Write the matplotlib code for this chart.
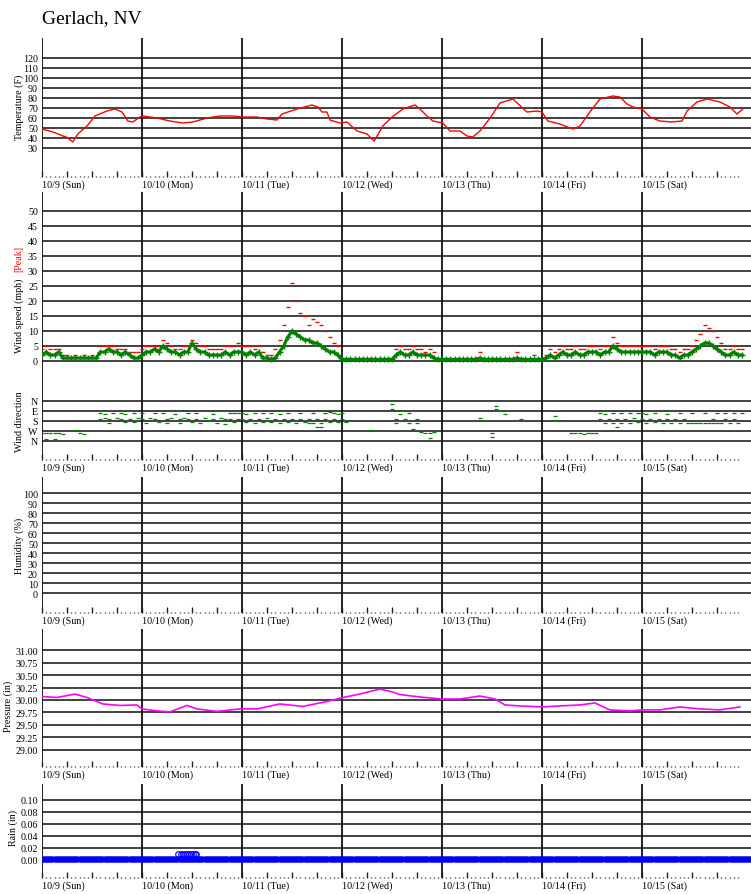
import numpy as np
import matplotlib.pyplot as plt

plt.rcParams['font.family'] = ['Liberation Serif', 'DejaVu Serif']

# ---- data (hours since 10/9 00:00) ----
day_labels = ['10/9 (Sun)', '10/10 (Mon)', '10/11 (Tue)', '10/12 (Wed)',
              '10/13 (Thu)', '10/14 (Fri)', '10/15 (Sat)']
day_starts = [0, 24, 48, 72, 96, 120, 144]

temp_hours = [0, 2.6, 4.5, 5.0, 5.8, 6.2, 6.8, 7.4, 8.0, 8.6, 10.8, 12.7, 15.6, 17.5, 19.2, 20.6, 21.8, 23.5,
              24.2, 27.6, 30.7, 33.8, 36.2, 39.6, 42.7, 45.8,
              48.0, 51.6, 54.0, 56.4, 57.6, 61.2, 64.8, 66.2, 67.2, 68.4, 69.1, 71.5,
              73.2, 75.6, 78.0, 79.7, 81.8, 84.0, 86.6, 89.5, 90.7, 92.4, 93.8, 96.2,
              97.9, 100.3, 102.0, 103.4, 105.1, 106.8, 108.2, 109.9, 113.0, 116.4, 118.8, 120.0,
              121.4, 124.3, 127.4, 129.1, 131.5, 133.9, 137.0, 138.7, 140.4, 141.8, 144.0,
              145.9, 148.3, 151.2, 153.6, 154.8, 157.2, 159.6, 162.7, 165.1, 166.8, 168.2]
temp_f = [49, 46, 43, 42, 41, 40, 38, 36, 40, 44, 52, 62, 67, 69, 66, 57, 56, 61,
          62, 60, 57, 55, 56, 60, 62, 62,
          61, 61, 59, 58, 64, 69, 73, 71, 66, 66, 58, 55,
          56, 47, 44, 37, 52, 61, 69, 73, 69, 62, 57, 55,
          47, 47, 42, 41, 47, 56, 64, 75, 79, 66, 67, 66,
          57, 54, 49, 52, 66, 79, 82, 81, 74, 71, 69,
          61, 57, 56, 57, 67, 76, 79, 76, 71, 64, 69]

# hourly wind speed, 10/9 00:00 .. 10/16 00:00
wind_avg_mph = [
    2, 3, 2, 2, 3, 1, 1, 1, 1, 1, 1, 1, 1, 1, 3, 3, 4, 3, 3, 2, 3, 2, 1, 1,
    2, 3, 3, 4, 3, 5, 4, 3, 3, 2, 3, 3, 6, 4, 3, 3, 2, 2, 2, 2, 3, 2, 3, 3,
    3, 2, 3, 2, 3, 1, 1, 0.5, 1, 3, 5, 8, 10, 9, 8, 7, 7, 6, 6, 5, 4, 3, 3, 2,
    0.5, 0.5, 0.5, 0.5, 0.5, 0.5, 0.5, 0.5, 0.5, 0.5, 0.5, 0.5, 0.5, 2, 3, 2, 2, 3, 2, 2, 2, 2, 1, 0.5,
    0.5, 0.5, 0.5, 0.5, 0.5, 0.5, 0.5, 0.5, 0.5, 1, 0.5, 0.5, 0.5, 0.5, 0.5, 0.5, 0.5, 0.5, 1, 0.5, 0.5, 0.5, 0.5, 0.5,
    0.5, 1, 2, 1, 2, 3, 2, 2, 3, 2, 2, 3, 3, 3, 2, 3, 3, 5, 4, 3, 3, 3, 3, 3,
    3, 3, 3, 2, 3, 3, 3, 2, 2, 1, 2, 2, 3, 4, 5, 6, 6, 5, 4, 3, 2, 2, 3, 2, 2]
wind_peak_mph = [
    4, 5, 4, 4, 4, 2, 2, 1, 2, 1, 2, 1, 2, 1, 5, 5, 5, 5, 4, 4, 4, 3, 3, 3,
    4, 5, 5, 5, 5, 7, 6, 5, 4, 4, 5, 5, 7, 6, 5, 5, 4, 4, 4, 4, 5, 5, 5, 6,
    5, 5, 5, 4, 5, 3, 2, 2, 4, 7, 12, 18, 26, 20, 16, 15, 12, 14, 13, 12, 10, 8, 6, 5,
    1, 1, 1, 1, 1, 1, 1, 1, 1, 1, 1, 1, 1, 4, 5, 4, 4, 5, 4, 4, 3, 4, 3, 1,
    1, 1, 1, 1, 1, 1, 1, 1, 1, 3, 1, 1, 1, 1, 1, 1, 1, 1, 3, 1, 1, 1, 2, 1,
    1, 2, 4, 3, 4, 5, 4, 4, 5, 4, 4, 5, 5, 5, 4, 5, 5, 8, 6, 5, 5, 5, 5, 5,
    5, 5, 5, 4, 5, 5, 5, 4, 4, 3, 4, 4, 5, 7, 9, 12, 11, 10, 8, 6, 4, 4, 5, 4, 4]

# wind direction observations (hour, degrees)
wind_dir_obs = [
    (0, 290), (1, 285), (1, 340), (2, 292), (3, 290), (3, 340), (4, 288), (5, 295), (8, 265), (9, 290), (10, 300),
    (14, 110), (14, 160), (15, 115), (15, 150), (16, 160), (16, 195), (17, 112), (18, 155), (19, 110), (19, 160),
    (20, 118), (20, 190), (21, 160), (22, 110), (22, 190), (23, 150),
    (24, 112), (24, 160), (25, 195), (26, 150), (27, 112), (27, 160), (28, 185), (29, 112), (30, 160), (30, 195),
    (31, 150), (32, 120), (33, 160), (33, 200), (34, 150), (35, 110), (35, 160), (36, 190), (37, 110), (37, 160),
    (38, 200), (39, 150), (40, 175), (41, 120), (41, 160), (42, 200), (43, 155), (44, 205), (44, 160), (45, 112),
    (45, 158), (46, 110), (46, 190), (47, 110), (47, 160),
    (48, 112), (48, 160), (49, 115), (49, 190), (50, 160), (51, 112), (51, 200), (52, 160), (53, 110), (53, 190),
    (54, 150), (55, 112), (55, 190), (56, 160), (57, 115), (57, 200), (58, 160), (59, 110), (59, 190), (60, 160),
    (61, 200), (62, 112), (62, 158), (63, 190), (64, 200), (64, 158), (65, 112), (65, 195), (66, 230), (66, 158),
    (67, 200), (67, 235), (68, 112), (68, 160), (69, 100), (69, 190), (70, 110), (70, 160), (71, 115), (71, 190),
    (72, 112), (72, 160), (73, 190), (79, 260), (84, 30), (84, 70), (85, 160), (85, 200), (86, 115), (86, 180),
    (87, 160), (88, 112), (88, 200), (89, 250), (90, 160), (90, 200), (91, 280), (92, 290), (93, 285), (93, 330),
    (94, 280),
    (105, 150), (108, 290), (108, 320), (109, 45), (109, 75), (110, 90), (111, 115), (115, 160),
    (123, 135), (123, 170), (124, 180), (127, 290), (128, 288), (129, 290), (130, 295), (131, 290), (132, 285),
    (133, 290), (134, 112), (134, 160), (135, 115), (135, 200), (136, 160), (137, 112), (137, 200), (138, 158),
    (138, 230), (139, 112), (139, 195), (140, 160), (141, 112), (141, 200), (142, 155), (143, 190), (143, 112),
    (144, 112), (144, 160), (145, 115), (145, 200), (146, 160), (147, 112), (147, 190), (148, 160), (149, 200),
    (150, 115), (150, 160), (151, 200), (152, 160), (153, 112), (153, 200), (154, 160), (155, 200), (156, 112),
    (156, 200), (157, 200), (158, 200), (159, 195), (159, 112), (160, 200), (161, 160), (161, 200), (162, 112),
    (162, 200), (163, 195), (164, 160), (164, 110), (165, 200), (166, 110), (166, 160), (167, 200), (168, 112)]

pressure_hours = [0, 3.6, 7.9, 10.8, 14.6, 18.7, 22.8, 24.0, 27.6, 30.7, 34.8, 37.2, 42.0, 47.5,
                  51.6, 57.1, 62.6, 68.4, 72.2, 76.3, 81.1, 84.2, 85.9, 90.7, 96.0, 100.3, 105.1,
                  108.7, 111.1, 114.7, 120.0, 124.3, 129.1, 132.7, 136.3, 141.1, 144.0, 148.3,
                  153.1, 157.9, 162.7, 167.5]
pressure_in = [30.07, 30.05, 30.12, 30.05, 29.92, 29.89, 29.90, 29.82, 29.78, 29.76, 29.89, 29.82, 29.77, 29.82,
               29.82, 29.92, 29.87, 29.97, 30.05, 30.12, 30.22, 30.16, 30.11, 30.06, 30.02, 30.02, 30.08,
               30.02, 29.90, 29.88, 29.86, 29.88, 29.90, 29.94, 29.80, 29.78, 29.80, 29.80,
               29.86, 29.82, 29.80, 29.86]

rain_hours = np.arange(0, 170.5, 0.5)
rain_in = np.zeros(len(rain_hours))
rain_wet_hours = [32.75, 33.25, 33.75, 34.25, 34.75, 35.25, 35.75, 36.25, 36.75, 37.0]
rain_wet_in = [0.01] * len(rain_wet_hours)

# ---- layout ----
W, H = 751, 895
X_END = 170.16
fig = plt.figure(figsize=(W / 100, H / 100), dpi=100)
FS = 7.2


def panel(top, bottom, ylim, yticks, yticklabels, days=True):
    ax = fig.add_axes([42 / W, 1 - bottom / H, (W - 42) / W, (bottom - top) / H])
    ax.set_xlim(0, X_END)
    ax.set_ylim(*ylim)
    for s in ax.spines.values():
        s.set_visible(False)
    for v in yticks:
        ax.axhline(v, color='#333333', lw=1.3, zorder=1)
    for d in day_starts:
        ax.axvline(d, color='#111111', lw=1.3, zorder=1)
    ax.set_yticks(yticks, yticklabels)
    ax.tick_params(axis='y', length=0, pad=3, labelsize=FS)
    if days:
        ax.set_xticks(np.arange(0, 168, 6))
        ax.set_xticks(np.arange(0, 168, 1), minor=True)
        ax.tick_params(axis='x', which='major', direction='in', length=4.5, width=1,
                       color='#222222', labelbottom=False)
        ax.tick_params(axis='x', which='minor', direction='in', length=1.0, width=1,
                       color='#222222')
        for d, lab in zip(day_starts, day_labels):
            ax.annotate(lab, (d, 0), xycoords=('data', 'axes fraction'), xytext=(0, -2),
                        textcoords='offset points', va='top', ha='left', fontsize=FS)
    else:
        ax.set_xticks([])
    return ax


def ylabel(x, y, s, color='black'):
    fig.text(x / W, 1 - y / H, s, rotation=90, ha='center', va='center', fontsize=FS, color=color)


fig.text(42 / W, 1 - 19 / H, 'Gerlach, NV', fontsize=14, va='center', ha='left')

# temperature
temp_ticks = [30, 40, 50, 60, 70, 80, 90, 100, 110, 120]
ax = panel(39, 178, (1, 140), temp_ticks, [str(t) for t in temp_ticks])
ax.plot(temp_hours, temp_f, color='red', lw=1, zorder=3)
ylabel(19, 107, 'Temperature (F)')

# wind speed
ws_ticks = [0, 5, 10, 15, 20, 25, 30, 35, 40, 45, 50]
ax = panel(193, 385, (-7.67, 56.33), ws_ticks, [str(t) for t in ws_ticks], days=False)
wind_hours = np.arange(len(wind_avg_mph))
ax.plot(wind_hours, wind_peak_mph, '_', color='red', ms=3, mew=1, zorder=3)
ax.plot(wind_hours, wind_avg_mph, color='green', lw=2.2, zorder=4)
ax.plot(wind_hours, wind_avg_mph, '+', color='green', ms=4, mew=1, zorder=4)
ylabel(19, 259, '[Peak]', color='red')
ylabel(19, 316, 'Wind speed (mph)')

# wind direction
ax = panel(385, 461, (531, -153), [0, 90, 180, 270, 360], ['N', 'E', 'S', 'W', 'N'])
dir_h = [o[0] for o in wind_dir_obs]
dir_d = [o[1] for o in wind_dir_obs]
ax.plot(dir_h, dir_d, '_', color='green', ms=3, mew=0.9, zorder=3)
ylabel(19, 422, 'Wind direction')

# humidity (no data)
hum_ticks = [0, 10, 20, 30, 40, 50, 60, 70, 80, 90, 100]
ax = panel(478, 614, (-20, 116), hum_ticks, [str(t) for t in hum_ticks])
ylabel(19, 546, 'Humidity (%)')

# pressure
p_ticks = [29.00, 29.25, 29.50, 29.75, 30.00, 30.25, 30.50, 30.75, 31.00]
ax = panel(630, 768, (28.649, 31.431), p_ticks, ['%.2f' % t for t in p_ticks])
ax.plot(pressure_hours, pressure_in, color='magenta', lw=1.2, zorder=3)
ylabel(8, 706, 'Pressure (in)')

# rain
r_ticks = [0.00, 0.02, 0.04, 0.06, 0.08, 0.10]
ax = panel(785, 879, (-0.0311, 0.1268), r_ticks, ['%.2f' % t for t in r_ticks])
ax.plot(rain_hours, rain_in, 'o', color='blue', ms=3.6, zorder=3)
ax.plot(rain_wet_hours, rain_wet_in, 'o', mfc='none', mec='blue', ms=4, mew=0.8, zorder=3)
ylabel(13, 828, 'Rain (in)')

fig.savefig('out.png', dpi=100)
